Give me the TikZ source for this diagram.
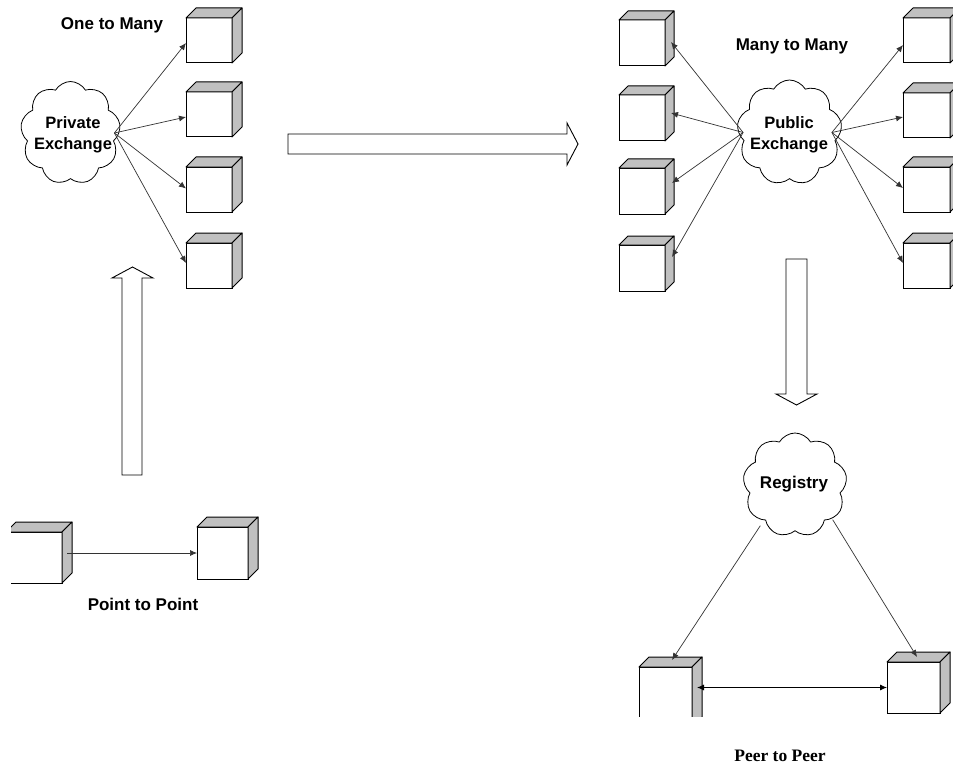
\documentclass[tikz,border=0pt]{standalone}
\usepackage{fontspec}
\setmainfont{Liberation Sans}
\newfontfamily\timesfont{Liberation Serif}
\usetikzlibrary{shapes.symbols,arrows.meta,calc}

\definecolor{facegray}{HTML}{C0C0C0}
\definecolor{linegray}{HTML}{333333}

\tikzset{
  frontface/.style={draw=black, fill=white, line width=1pt, rectangle, inner sep=0pt, outer sep=0pt},
  sideface/.style={draw=black, fill=facegray, line width=1pt, line join=round},
  conn/.style={draw=linegray, line width=0.7pt, -{Latex[length=7pt,width=6pt]}},
  biconn/.style={draw=black, line width=0.8pt, {Latex[length=7pt,width=6pt]}-{Latex[length=7pt,width=6pt]}},
  blockarrow/.style={draw=black, fill=white, line width=0.9pt, line join=miter},
  puff/.style={draw=black, fill=white, line width=0.8pt, cloud, cloud puffs=9, cloud puff arc=120, aspect=1, inner sep=0pt},
  lbl/.style={font=\bfseries\fontsize{17}{20}\selectfont, inner sep=0pt},
  cloudtext/.style={font=\bfseries\fontsize{16.5}{21}\selectfont, align=center, inner sep=0pt},
}

% \cubebox{name}{left x}{top y}{width}{height}{depth}: a shaded 3-D box
\newcommand\cubebox[6]{%
  \node[frontface, minimum width=#4pt, minimum height=#5pt] (#1) at ({#2+#4/2},{#3+#5/2}) {};
  \draw[sideface] (#1.north west) -- ++(#6,-#6) -- ++(#4,0) -- (#1.north east) -- cycle;
  \draw[sideface] (#1.north east) -- ++(#6,-#6) -- ++(0,#5) -- (#1.south east) -- cycle;
}

\begin{document}
\begin{tikzpicture}[x=1pt, y=-1pt]
  \clip (0,0) rectangle (953,765);
  \fill[white] (0,0) rectangle (953,765);

  % ---------- One to Many ----------
  \node[lbl, anchor=base] (otm) at (112,30) {One to Many};
  \node[puff, minimum width=100pt, minimum height=103pt] (priv) at (70.5,133) {};
  \node[cloudtext] (privtxt) at (73,135) {Private\\Exchange};
  \cubebox{a1}{186}{18}{46}{45}{10}
  \cubebox{a2}{186}{92}{46}{45}{10}
  \cubebox{a3}{186}{167}{46}{45}{10}
  \cubebox{a4}{186}{243}{46}{45}{10}
  \coordinate (privout) at ($(priv.east)+(-5,0)$);
  \draw[conn] (privout) -- ($(a1.west)+(0,2.5)$);
  \draw[conn] (privout) -- ($(a2.west)+(0,2.5)$);
  \draw[conn] (privout) -- ($(a3.west)+(0,-1)$);
  \draw[conn] (privout) -- ($(a4.west)+(0,-2.5)$);

  % ---------- Many to Many ----------
  \node[lbl, anchor=base] (mtm) at (792,51) {Many to Many};
  \node[puff, minimum width=105pt, minimum height=105pt] (pub) at (789.5,132.5) {};
  \node[cloudtext] (pubtxt) at (789,135) {Public\\Exchange};
  \cubebox{l1}{619}{20}{46}{46}{9}
  \cubebox{l2}{619}{95}{46}{46}{9}
  \cubebox{l3}{619}{168}{46}{46}{9}
  \cubebox{l4}{619}{245}{46}{46}{9}
  \cubebox{r1}{903}{18}{47}{45}{10}
  \cubebox{r2}{903}{93}{47}{45}{10}
  \cubebox{r3}{903}{167}{47}{45}{10}
  \cubebox{r4}{903}{243}{47}{45}{10}
  \coordinate (pubin) at ($(pub.west)+(5,0)$);
  \coordinate (pubout) at ($(pub.east)+(-9,0)$);
  \draw[conn] (pubin) -- ($(l1.east)+(6,-1)$);
  \draw[conn] (pubin) -- ($(l2.east)+(6,-5)$);
  \draw[conn] (pubin) -- ($(l3.east)+(7,-8)$);
  \draw[conn] (pubin) -- ($(l4.east)+(7,-11)$);
  \draw[conn] (pubout) -- ($(r1.west)+(0,4.5)$);
  \draw[conn] (pubout) -- ($(r2.west)+(0,1.5)$);
  \draw[conn] (pubout) -- ($(r3.west)+(0,-1.5)$);
  \draw[conn] (pubout) -- ($(r4.west)+(0,-2.5)$);

  % ---------- Point to Point ----------
  \begin{scope}
    \clip (11,0) rectangle (953,765);
    \cubebox{pa}{6}{532}{56}{51}{10}
  \end{scope}
  \cubebox{pb}{197}{527}{51}{52}{10}
  \draw[conn] ($(pa.east)+(5,-4.5)$) -- (pb.west);
  \node[lbl, anchor=base] (ptp) at (143,610) {Point to Point};

  % ---------- Peer to Peer ----------
  \node[puff, minimum width=104pt, minimum height=104pt] (reg) at (795,485) {};
  \node[lbl, anchor=base] (regtxt) at (794,488) {Registry};
  \begin{scope}
    \clip (0,0) rectangle (953,716.5);
    \cubebox{pl}{639}{667}{53}{60}{10}
  \end{scope}
  \cubebox{pr}{887}{662}{53}{51}{10}
  \draw[conn] ($(reg.south west)+(0,6)$) -- ($(pl.north)+(6.5,-7)$);
  \draw[conn] ($(reg.south east)+(3,0)$) -- ($(pr.north)+(3.5,-5)$);
  \draw[biconn] ($(pl.north east)+(5,20.5)$) -- (pr.west);
  \node[font=\timesfont\bfseries\fontsize{17.5}{20}\selectfont, inner sep=0pt, anchor=base] (ptptxt) at (780,761) {Peer to Peer};

  % ---------- transition arrows ----------
  \draw[blockarrow] (288,134) -- (567,134) -- (567,123) -- (578,144) -- (567,165) -- (567,154) -- (288,154) -- cycle;
  \draw[blockarrow] (122,475) -- (122,278) -- (112,278) -- (132.5,267) -- (153,278) -- (142,278) -- (142,475) -- cycle;
  \draw[blockarrow] (786,259) -- (807,259) -- (807,394) -- (817,394) -- (796.5,405) -- (776,394) -- (786,394) -- cycle;
\end{tikzpicture}
\end{document}
